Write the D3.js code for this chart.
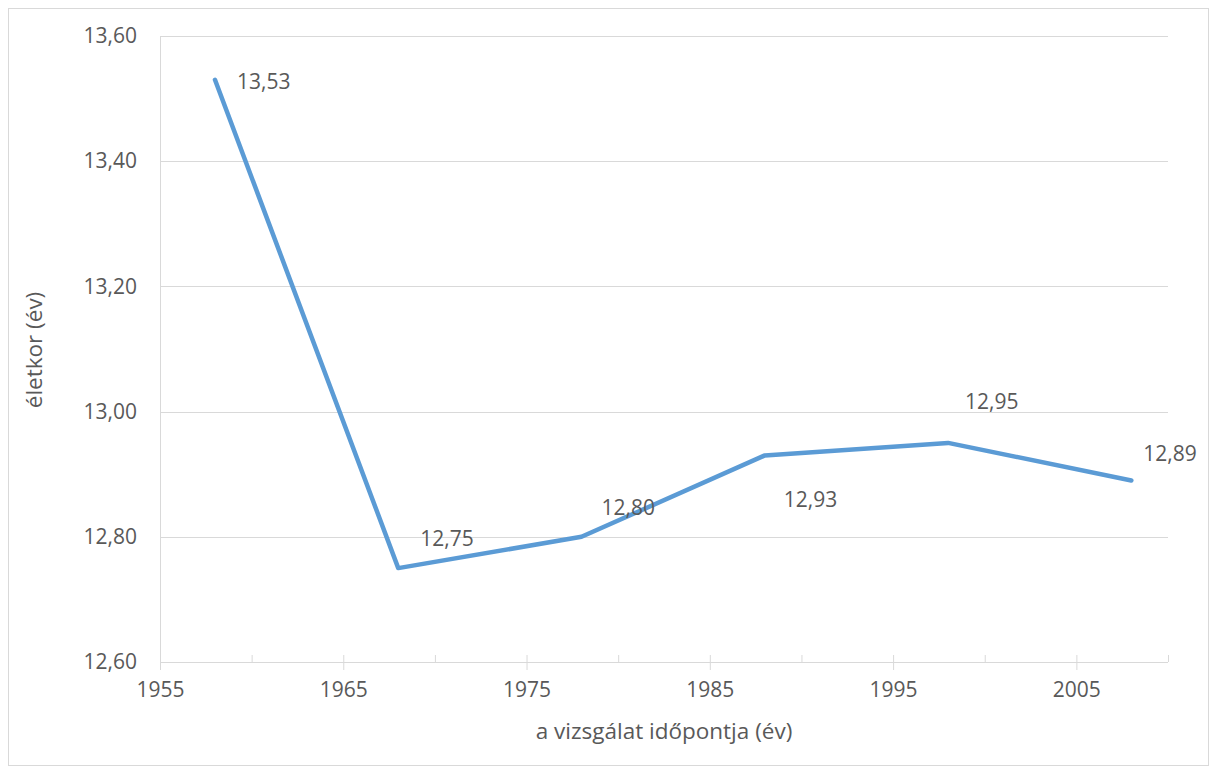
<!DOCTYPE html>
<html>
<head>
<meta charset="utf-8">
<script src="https://cdn.jsdelivr.net/npm/d3@7/dist/d3.min.js"></script>
<style>
  body { margin: 0; background: #fff; }
  text { font-family: "Open Sans", sans-serif; fill: #595959; }
</style>
</head>
<body>
<svg id="chart" width="1217" height="774"></svg>
<script>
// data
const years = [1958, 1968, 1978, 1988, 1998, 2008];
const ages = [13.53, 12.75, 12.80, 12.93, 12.95, 12.89];
// where each value label sits relative to its point
const labelDx = [22, 22, 20, 19, 17, 12];
const labelDy = [2, -29, -29, 44, -41, -27];
const yTicks = [12.6, 12.8, 13.0, 13.2, 13.4, 13.6];
const xMajor = [1955, 1965, 1975, 1985, 1995, 2005];
const xMinor = [1960, 1970, 1980, 1990, 2000, 2010];

const margin = { top: 36, right: 49, bottom: 112, left: 160 };
const W = 1217, H = 774;
const width = W - margin.left - margin.right;
const height = H - margin.top - margin.bottom;

const svg = d3.select('#chart');

// outer frame
svg.append('rect')
  .attr('x', 8.5).attr('y', 8.5)
  .attr('width', W - 17).attr('height', H - 17)
  .style('fill', 'none').style('stroke', '#d9d9d9');

const g = svg.append('g')
  .attr('transform', 'translate(' + margin.left + ',' + margin.top + ')');

const x = d3.scaleLinear().domain([1955, 2010]).range([0, width]);
const y = d3.scaleLinear().domain([12.6, 13.6]).range([height, 0]);
const fmt = d => d3.format('.2f')(d).replace('.', ',');

// gridlines
g.append('g')
  .selectAll('line')
  .data(yTicks.slice(1))
  .enter()
  .append('line')
  .attr('x1', 0).attr('x2', width)
  .attr('y1', d => Math.round(y(d)) + 0.5).attr('y2', d => Math.round(y(d)) + 0.5)
  .style('stroke', '#d9d9d9');

// y axis
const yAxis = g.append('g')
  .call(d3.axisLeft(y).tickValues(yTicks).tickSize(0).tickPadding(23).tickFormat(fmt));
yAxis.select('.domain').style('stroke', '#d9d9d9');
yAxis.selectAll('text').style('font-size', '21px').style('fill', '#595959');

// x axis: major ticks cross the line, minor ticks sit above it
const xAxis = g.append('g')
  .attr('transform', 'translate(0,' + height + ')')
  .call(d3.axisBottom(x).tickValues(xMajor).tickSize(8).tickPadding(12).tickFormat(d3.format('d')));
xAxis.select('.domain').attr('d', 'M0.5,0.5H' + width).style('stroke', '#d9d9d9');
xAxis.selectAll('.tick line').attr('y1', -7).style('stroke', '#d9d9d9');
xAxis.selectAll('text').style('font-size', '21px').style('fill', '#595959');
xAxis.selectAll('.minor')
  .data(xMinor)
  .enter()
  .append('line')
  .attr('class', 'minor')
  .attr('x1', d => x(d) + 0.5).attr('x2', d => x(d) + 0.5)
  .attr('y1', -7).attr('y2', 0)
  .style('stroke', '#d9d9d9');

// line
const line = d3.line()
  .x((d, i) => x(years[i]))
  .y(d => y(d));

g.append('path')
  .datum(ages)
  .attr('d', line)
  .style('fill', 'none')
  .style('stroke', '#5b9bd5')
  .style('stroke-width', 4.5)
  .style('stroke-linejoin', 'round')
  .style('stroke-linecap', 'round');

// value labels
g.append('g')
  .selectAll('text')
  .data(ages)
  .enter()
  .append('text')
  .attr('x', (d, i) => x(years[i]) + labelDx[i])
  .attr('y', (d, i) => y(d) + labelDy[i])
  .attr('dy', '0.35em')
  .style('font-size', '21px')
  .text(d => fmt(d));

// axis titles
svg.append('text')
  .attr('transform', 'translate(34,350) rotate(-90)')
  .attr('text-anchor', 'middle')
  .attr('dy', '0.35em')
  .style('font-size', '22.5px')
  .text('életkor (év)');

svg.append('text')
  .attr('x', 664).attr('y', 731)
  .attr('text-anchor', 'middle')
  .attr('dy', '0.35em')
  .style('font-size', '22.5px')
  .text('a vizsgálat időpontja (év)');
</script>
</body>
</html>
